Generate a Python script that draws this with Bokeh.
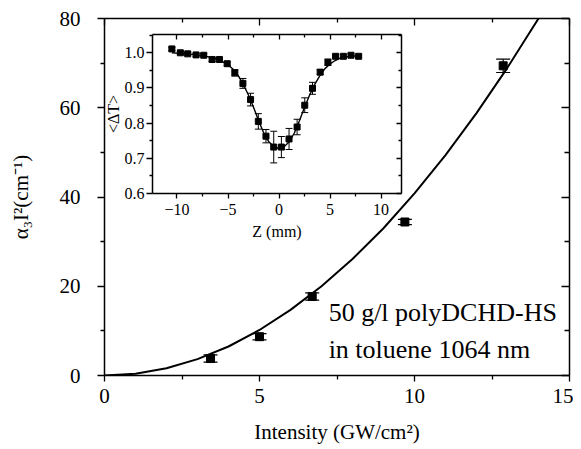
from bokeh.plotting import figure
from bokeh.layouts import column
from bokeh.models import (LinearAxis, ColumnDataSource, Whisker, TeeHead, Label, Range1d,
                          CustomJSTickFormatter, FixedTicker, NumeralTickFormatter)
from bokeh.embed import file_html
from bokeh.resources import INLINE

# ---- main chart data ----
intensity = [3.42, 5.0, 6.70, 9.69, 12.86]
alpha_i2 = [3.8, 8.7, 17.7, 34.4, 69.4]
alpha_err = [0.8, 0.7, 0.8, 0.6, 1.5]
fit_intensity = [0, 1, 2, 3, 4, 5, 6, 7, 8, 9, 10, 11, 12, 13, 14]
fit_alpha = [0, 0.41, 1.63, 3.67, 6.5, 10.2, 14.7, 20.0, 26.1, 33.0, 40.8, 49.4, 58.8, 69.0, 80.0]
x_ticks = [0, 5, 10, 15]
y_ticks = [0, 20, 40, 60, 80]

# ---- inset data ----
z_mm = [-10.5, -9.67, -8.95, -8.13, -7.38, -6.56, -5.84, -5.08, -4.33, -3.54, -2.79, -2.03,
        -1.28, -0.52, 0.23, 0.98, 1.77, 2.52, 3.28, 4.03, 4.79, 5.54, 6.30, 7.05, 7.80]
delta_t = [1.011, 1.0, 0.997, 0.994, 0.993, 0.981, 0.981, 0.969, 0.943, 0.913, 0.867, 0.805,
           0.763, 0.732, 0.732, 0.755, 0.789, 0.851, 0.899, 0.945, 0.973, 0.990, 0.990, 0.993, 0.990]
delta_t_err = [0.005, 0.004, 0.004, 0.004, 0.004, 0.006, 0.005, 0.006, 0.009, 0.014, 0.018, 0.022,
               0.019, 0.045, 0.03, 0.03, 0.022, 0.021, 0.017, 0.007, 0.009, 0.005, 0.005, 0.004, 0.004]
fit_z = [-10.5, -9, -8, -7, -6, -5, -4.5, -4, -3.5, -3, -2.5, -2, -1.5, -1, -0.5, 0,
         0.5, 1, 1.5, 2, 2.5, 3, 3.5, 4, 4.5, 5, 5.5, 6, 7, 7.8]
fit_dt = [1.0, 0.997, 0.994, 0.989, 0.981, 0.966, 0.953, 0.935, 0.91, 0.88, 0.845, 0.807,
          0.772, 0.747, 0.733, 0.728, 0.733, 0.747, 0.772, 0.807, 0.845, 0.88, 0.91, 0.935,
          0.955, 0.968, 0.978, 0.985, 0.99, 0.992]
z_ticks = [-10, -5, 0, 5, 10]
t_ticks = [0.6, 0.7, 0.8, 0.9, 1.0]

FONT = "Liberation Serif"
blank = CustomJSTickFormatter(code="return ''")


def style_axis(ax, size, tick_out, tick_in, minor_out, minor_in, standoff):
    ax.axis_line_color = "black"
    ax.axis_line_width = 1.5
    ax.major_tick_line_color = "black"
    ax.minor_tick_line_color = "black"
    ax.major_tick_line_width = 1.3
    ax.minor_tick_line_width = 1.3
    ax.major_tick_out = tick_out
    ax.major_tick_in = tick_in
    ax.minor_tick_out = minor_out
    ax.minor_tick_in = minor_in
    ax.major_label_text_font = FONT
    ax.major_label_text_font_size = size
    ax.major_label_text_color = "black"
    ax.major_label_standoff = standoff
    ax.axis_label_text_font = FONT
    ax.axis_label_text_font_style = "normal"
    ax.axis_label_text_color = "black"


# ---------------- main figure ----------------
p = figure(frame_width=465, frame_height=357, x_range=Range1d(0, 15), y_range=Range1d(0, 80),
           output_backend="svg", toolbar_location=None, x_axis_label="Intensity (GW/cm²)",
           y_axis_label="α₃I²(cm⁻¹)",
           min_border_left=104, min_border_right=4, min_border_top=18, min_border_bottom=74)
p.outline_line_color = None
p.grid.visible = False

p.xaxis.ticker = FixedTicker(ticks=x_ticks, minor_ticks=[2.5, 7.5, 12.5])
p.yaxis.ticker = FixedTicker(ticks=y_ticks, minor_ticks=[10, 30, 50, 70])
style_axis(p.xaxis[0], "21px", 6, 0, 4, 0, 7)
style_axis(p.yaxis[0], "21px", 7, 0, 4, 0, 17)
p.xaxis.axis_label_text_font_size = "21px"
p.yaxis.axis_label_text_font_size = "21px"
p.xaxis.axis_label_standoff = 14
p.yaxis.axis_label_standoff = 24

top_ax = LinearAxis(ticker=FixedTicker(ticks=x_ticks, minor_ticks=[2.5, 7.5, 12.5]), formatter=blank)
right_ax = LinearAxis(ticker=FixedTicker(ticks=y_ticks, minor_ticks=[10, 30, 50, 70]), formatter=blank)
style_axis(top_ax, "1px", 0, 7, 0, 4, 0)
style_axis(right_ax, "1px", 0, 8, 0, 5, 0)
p.add_layout(top_ax, "above")
p.add_layout(right_ax, "right")

p.line(fit_intensity, fit_alpha, line_color="black", line_width=2)
src = ColumnDataSource(dict(x=intensity, y=alpha_i2,
                            lo=[a - e for a, e in zip(alpha_i2, alpha_err)],
                            hi=[a + e for a, e in zip(alpha_i2, alpha_err)]))
p.add_layout(Whisker(base="x", upper="hi", lower="lo", source=src, line_color="black", line_width=1.2,
                     upper_head=TeeHead(size=14, line_color="black", line_width=1.2),
                     lower_head=TeeHead(size=14, line_color="black", line_width=1.2)))
p.scatter("x", "y", source=src, marker="square", size=8, color="black")

p.add_layout(Label(x=7.23, y=14.1, text="50 g/l polyDCHD-HS", text_font=FONT,
                   text_font_size="26px", text_color="black", text_baseline="alphabetic"))
p.add_layout(Label(x=7.23, y=5.8, text="in toluene 1064 nm", text_font=FONT,
                   text_font_size="26px", text_color="black", text_baseline="alphabetic"))

# ---------------- inset ----------------
# frame left borders are aligned with the main figure inside the column, so use the same left border
q = figure(frame_width=249, frame_height=159, x_range=Range1d(-12.4, 12.0), y_range=Range1d(0.6, 1.052),
           output_backend="svg", toolbar_location=None, x_axis_label="Z (mm)", y_axis_label="<ΔT>",
           min_border_left=104, min_border_right=4, min_border_top=6, min_border_bottom=55)
q.outline_line_color = None
q.grid.visible = False
q.background_fill_alpha = 0
q.border_fill_alpha = 0

zt = FixedTicker(ticks=z_ticks, minor_ticks=[-12.5, -7.5, -2.5, 2.5, 7.5])
tt = FixedTicker(ticks=t_ticks, minor_ticks=[0.65, 0.75, 0.85, 0.95, 1.05])
q.xaxis.ticker = zt
q.yaxis.ticker = tt
q.yaxis.formatter = NumeralTickFormatter(format="0.0")
style_axis(q.xaxis[0], "16px", 5, 0, 3, 0, 5)
style_axis(q.yaxis[0], "16px", 6, 0, 3, 0, 2)
q.xaxis.axis_label_text_font_size = "16px"
q.yaxis.axis_label_text_font_size = "16px"
q.xaxis.axis_label_standoff = 5
q.yaxis.axis_label_standoff = 0
q_top = LinearAxis(ticker=FixedTicker(ticks=z_ticks, minor_ticks=[-12.5, -7.5, -2.5, 2.5, 7.5]), formatter=blank)
q_right = LinearAxis(ticker=FixedTicker(ticks=t_ticks, minor_ticks=[0.65, 0.75, 0.85, 0.95, 1.05]), formatter=blank)
style_axis(q_top, "1px", 0, 5, 0, 3, 0)
style_axis(q_right, "1px", 0, 5, 0, 3, 0)
q.add_layout(q_top, "above")
q.add_layout(q_right, "right")

q.line(fit_z, fit_dt, line_color="black", line_width=1.4)
isrc = ColumnDataSource(dict(x=z_mm, y=delta_t,
                             lo=[a - e for a, e in zip(delta_t, delta_t_err)],
                             hi=[a + e for a, e in zip(delta_t, delta_t_err)]))
q.add_layout(Whisker(base="x", upper="hi", lower="lo", source=isrc, line_color="black", line_width=1,
                     upper_head=TeeHead(size=7, line_color="black", line_width=1),
                     lower_head=TeeHead(size=7, line_color="black", line_width=1)))
q.scatter("x", "y", source=isrc, marker="square", size=6, color="black")

q.styles = {"position": "absolute", "left": "48px", "top": "28px"}
layout = column(p, q, styles={"position": "relative"})

open("out.html", "w").write(file_html(layout, INLINE))
